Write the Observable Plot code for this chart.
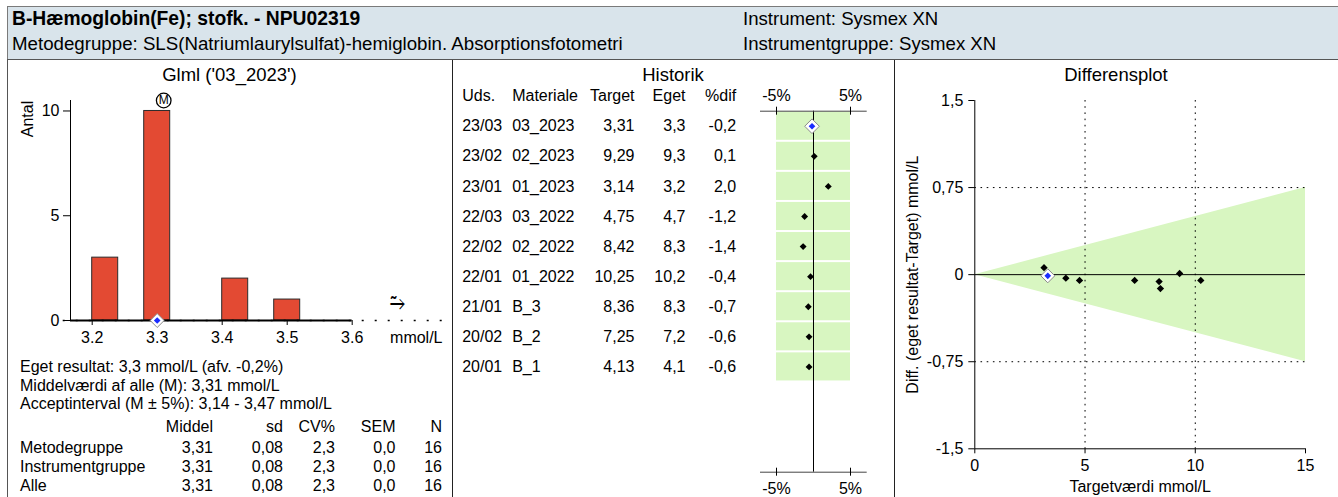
<!DOCTYPE html>
<html><head><meta charset="utf-8">
<script src="https://cdn.jsdelivr.net/npm/d3@7"></script>
<script src="https://cdn.jsdelivr.net/npm/@observablehq/plot@0.6"></script>
<style>
html,body{margin:0;padding:0;background:#fff;}
#root{position:relative;width:1338px;height:497px;overflow:hidden;font-family:"Liberation Sans",Arial,sans-serif;color:#000;background:#fff;}
.abs{position:absolute;white-space:nowrap;}
</style></head><body><div id="root"></div>
<script>
// ---------- data ----------
const histBinStart = [3.20, 3.28, 3.40, 3.48];
const histBinWidth = 0.04;
const histCounts = [3, 10, 2, 1];
const histXTicks = [3.2, 3.3, 3.4, 3.5, 3.6];
const histYTicks = [0, 5, 10];
const meanAll = 3.31;
const ownResult = 3.3;

const uds = ["23/03","23/02","23/01","22/03","22/02","22/01","21/01","20/02","20/01"];
const materiale = ["03_2023","02_2023","01_2023","03_2022","02_2022","01_2022","B_3","B_2","B_1"];
const targetVals = [3.31, 9.29, 3.14, 4.75, 8.42, 10.25, 8.36, 7.25, 4.13];
const egetVals = [3.3, 9.3, 3.2, 4.7, 8.3, 10.2, 8.3, 7.2, 4.1];
const pctDif = [-0.2, 0.1, 2.0, -1.2, -1.4, -0.4, -0.7, -0.6, -0.6];
const acceptPct = [-5, 5];
const histHeaders = ["Uds.", "Materiale", "Target", "Eget", "%dif"];

const diffXTicks = [0, 5, 10, 15];
const diffYTicks = [-1.5, -0.75, 0, 0.75, 1.5];
const diffGridX = [5, 10];
const diffGridY = [-0.75, 0.75];
const targetRange = [0, 15];

const statHeaders = ["Middel", "sd", "CV%", "SEM", "N"];
const statGroups = ["Metodegruppe", "Instrumentgruppe", "Alle"];
const statMiddel = [3.31, 3.31, 3.31];
const statSd = [0.08, 0.08, 0.08];
const statCV = [2.3, 2.3, 2.3];
const statSEM = [0.0, 0.0, 0.0];
const statN = [16, 16, 16];

// ---------- helpers ----------
const FONT = '"Liberation Sans", Arial, sans-serif';
const GREEN = "#d8f6c1";
const RED = "#e34a33";
const BLUE = "#1a2cff";
const comma = v => String(v).replace(".", ",");
const root = document.getElementById("root");
function box(style) { const d = document.createElement("div"); d.className = "abs"; Object.assign(d.style, style); root.appendChild(d); return d; }
function txt(s, x, cy, opts = {}) {
  const size = opts.size || 16, lh = 20;
  const d = box({left: x + "px", top: (cy - lh / 2) + "px", fontSize: size + "px", lineHeight: lh + "px",
    fontWeight: opts.bold ? "bold" : "normal"});
  if (opts.anchor === "end") d.style.transform = "translateX(-100%)";
  if (opts.anchor === "middle") d.style.transform = "translateX(-50%)";
  d.textContent = s;
  return d;
}
function place(svg, left, top, w, h) {
  const d = box({left: left + "px", top: top + "px", width: w + "px", height: h + "px"});
  d.appendChild(svg);
}
const DIAMOND = {draw(ctx, size) { const r = Math.sqrt(size) * 0.62625; ctx.moveTo(0, -r); ctx.lineTo(r, 0); ctx.lineTo(0, r); ctx.lineTo(-r, 0); ctx.closePath(); }};
const baseStyle = {fontFamily: FONT, fontSize: "16px", background: "transparent", overflow: "visible", color: "#000"};

// ---------- header ----------
box({left: "7px", top: "6px", width: "1331px", height: "54px", background: "#d9e4eb", borderTop: "1px solid #7a7a7a", borderLeft: "1px solid #7a7a7a", boxSizing: "border-box"});
box({left: "7px", top: "59px", width: "1331px", height: "1px", background: "#555"});
box({left: "7px", top: "60px", width: "1px", height: "437px", background: "#555"});
box({left: "452px", top: "60px", width: "1px", height: "437px", background: "#222"});
box({left: "894px", top: "60px", width: "1px", height: "437px", background: "#222"});
txt("B-Hæmoglobin(Fe); stofk. - NPU02319", 12, 19, {size: 19.3, bold: true});
txt("Metodegruppe: SLS(Natriumlaurylsulfat)-hemiglobin. Absorptionsfotometri", 12, 44, {size: 18.7});
txt("Instrument: Sysmex XN", 743, 19, {size: 18.6});
txt("Instrumentgruppe: Sysmex XN", 743, 44, {size: 18.6});

// panel titles
txt("Glml ('03_2023')", 229.5, 75, {size: 18.5, anchor: "middle"});
txt("Historik", 673, 75, {size: 18.5, anchor: "middle"});
txt("Differensplot", 1116, 75, {size: 18.5, anchor: "middle"});

// ---------- histogram ----------
const hx0 = 3.2 - 21.7 / 650, hx1 = 3.2 + 351.3 / 650;
const histData = histBinStart.map((x, i) => ({x1: x, x2: x + histBinWidth, n: histCounts[i]}));
const hist = Plot.plot({
  width: 452, height: 290, marginLeft: 70, marginRight: 9, marginTop: 40, marginBottom: 30,
  style: baseStyle,
  x: {domain: [hx0, hx1]},
  y: {domain: [0, 10.5]},
  marks: [
    Plot.rectY(histData, {x1: "x1", x2: "x2", y: "n", fill: RED, stroke: "#2b2b2b", strokeWidth: 1}),
    Plot.ruleY([0], {x1: 3.2 - 29 / 650, x2: hx1, stroke: "#000", strokeWidth: 1.6, strokeDasharray: "2,11"}),
    Plot.ruleY([0], {x1: hx0, x2: histXTicks[histXTicks.length - 1], stroke: "#000", strokeWidth: 2}),
    Plot.ruleX([hx0], {stroke: "#000"}),
    Plot.axisY({ticks: histYTicks, tickSize: 7, tickPadding: 4, label: null}),
    Plot.axisX({ticks: histXTicks, tickSize: 5, tickPadding: 6, tickFormat: d => d.toFixed(1), label: null}),
    Plot.text(["Antal"], {frameAnchor: "top-left", dx: -42.5, dy: 18.5, rotate: -90, textAnchor: "middle", lineAnchor: "middle"}),
    Plot.text(["mmol/L"], {frameAnchor: "bottom-right", dx: -1, dy: 17, textAnchor: "end", lineAnchor: "middle"}),
    Plot.text(["⥲"], {frameAnchor: "bottom-right", dx: -46, dy: -19, textAnchor: "middle", lineAnchor: "middle", fontFamily: "DejaVu Sans", fontSize: 19}),
    Plot.dot([meanAll], {x: d => d, frameAnchor: "top", r: 7.3, stroke: "#000", strokeWidth: 1.3, fill: "white"}),
    Plot.text([meanAll], {x: d => d, frameAnchor: "top", text: () => "M", fontSize: 12, textAnchor: "middle", lineAnchor: "middle"}),
    Plot.dot([ownResult], {x: d => d, frameAnchor: "bottom", symbol: DIAMOND, r: 6.3, fill: "white", stroke: "#8a8a8a", strokeWidth: 1}),
    Plot.dot([ownResult], {x: d => d, frameAnchor: "bottom", symbol: DIAMOND, r: 3, fill: BLUE})
  ]
});
place(hist, 0, 60, 452, 290);

// stats text
txt("Eget resultat: 3,3 mmol/L (afv. -0,2%)", 20, 367);
txt("Middelværdi af alle (M): 3,31 mmol/L", 20, 385.5);
txt("Acceptinterval (M ± 5%): 3,14 - 3,47 mmol/L", 20, 404);
const statColX = [213, 283, 335, 395.5, 442];
statHeaders.forEach((h, j) => txt(h, statColX[j], 427, {anchor: "end"}));
statGroups.forEach((g, i) => {
  const cy = 447.5 + i * 19;
  txt(g, 20, cy);
  const vals = [statMiddel[i].toFixed(2), statSd[i].toFixed(2), statCV[i].toFixed(1), statSEM[i].toFixed(1), String(statN[i])].map(comma);
  vals.forEach((v, j) => txt(v, statColX[j], cy, {anchor: "end"}));
});

// ---------- historik ----------
const rows = uds.map((u, i) => ({i, uds: u, mat: materiale[i], target: comma(targetVals[i].toFixed(2)), eget: comma(egetVals[i].toFixed(1)), pdif: comma(pctDif[i].toFixed(1)), pct: pctDif[i]}));
const mLeft = 760, mRight = 866.7, px0 = 813, pxPer = 7.4;
const colDx = [461.7 - mLeft, 511.7 - mLeft, 634 - mLeft, 685 - mLeft, 735.7 - mLeft];
const colAnchor = ["start", "start", "end", "end", "end"];
const colKey = ["uds", "mat", "target", "eget", "pdif"];
const yTop = -0.5, yBot = 11.5;
const mid = Plot.plot({
  width: 442, height: 437, marginLeft: mLeft - 452, marginRight: 894 - mRight, marginTop: 50.7, marginBottom: 437 - (471.7 - 60),
  style: baseStyle,
  x: {domain: [(mLeft - px0) / pxPer, (mRight - px0) / pxPer], axis: null},
  y: {domain: [yTop, yBot], reverse: true, axis: null},
  marks: [
    Plot.rect(rows, {x1: acceptPct[0], x2: acceptPct[1], y1: d => d.i - 0.5, y2: d => d.i + 0.5, insetTop: 1, insetBottom: 1, fill: GREEN}),
    Plot.ruleX([0], {stroke: "#000"}),
    Plot.ruleY([yTop, yBot], {stroke: "#444"}),
    Plot.ruleX(acceptPct, {y1: yTop, y2: yTop, insetTop: -4, insetBottom: -4, stroke: "#000"}),
    Plot.ruleX(acceptPct, {y1: yBot, y2: yBot, insetTop: -4, insetBottom: -4, stroke: "#000"}),
    Plot.text(acceptPct, {x: d => d, frameAnchor: "top", dy: -15.7, text: d => d + "%", textAnchor: "middle", lineAnchor: "middle"}),
    Plot.text(acceptPct, {x: d => d, frameAnchor: "bottom", dy: 16.3, text: d => d + "%", textAnchor: "middle", lineAnchor: "middle"}),
    ...histHeaders.map((h, j) => Plot.text([h], {frameAnchor: "top-left", dx: colDx[j], dy: -15.7, textAnchor: colAnchor[j], lineAnchor: "middle"})),
    ...colKey.map((k, j) => Plot.text(rows, {y: "i", text: k, frameAnchor: "left", dx: colDx[j], textAnchor: colAnchor[j], lineAnchor: "middle"})),
    Plot.dot(rows.slice(1), {x: "pct", y: "i", symbol: DIAMOND, r: 3.1, fill: "#000"}),
    Plot.dot(rows.slice(0, 1), {x: "pct", y: "i", symbol: DIAMOND, r: 6.6, fill: "white", stroke: "#8a8a8a", strokeWidth: 1}),
    Plot.dot(rows.slice(0, 1), {x: "pct", y: "i", symbol: DIAMOND, r: 3, fill: BLUE})
  ]
});
place(mid, 452, 60, 442, 437);

// ---------- differensplot ----------
const diffData = targetVals.map((t, i) => ({t, d: +(egetVals[i] - t).toFixed(2), cur: i === 0}));
const right = Plot.plot({
  width: 444, height: 437, marginLeft: 80.3, marginRight: 33, marginTop: 40, marginBottom: 48.7,
  style: baseStyle,
  x: {domain: targetRange},
  y: {domain: [diffYTicks[0], diffYTicks[diffYTicks.length - 1]]},
  marks: [
    Plot.areaY(targetRange, {x: d => d, y1: d => d * acceptPct[0] / 100, y2: d => d * acceptPct[1] / 100, fill: GREEN}),
    Plot.ruleY(diffGridY, {stroke: "#000", strokeDasharray: "1.6,4.6"}),
    Plot.ruleX(diffGridX, {stroke: "#000", strokeDasharray: "1.6,4.6"}),
    Plot.ruleY([0], {stroke: "#000"}),
    Plot.ruleX([targetRange[0]], {stroke: "#000"}),
    Plot.ruleY([diffYTicks[0]], {stroke: "#000"}),
    Plot.axisY({ticks: diffYTicks, tickSize: 6, tickPadding: 5.5, tickFormat: comma, label: null}),
    Plot.axisX({ticks: diffXTicks, tickSize: 5, tickPadding: 6, tickFormat: comma, label: null}),
    Plot.text(["Targetværdi mmol/L"], {frameAnchor: "bottom", dy: 38.4, textAnchor: "middle", lineAnchor: "middle"}),
    Plot.text(["Diff. (eget resultat-Target) mmol/L"], {frameAnchor: "left", dx: -61.8, rotate: -90, textAnchor: "middle", lineAnchor: "middle"}),
    Plot.dot(diffData.filter(d => !d.cur), {x: "t", y: "d", symbol: DIAMOND, r: 3.3, fill: "#000"}),
    Plot.dot(diffData.filter(d => d.cur), {x: "t", y: "d", symbol: DIAMOND, r: 6.3, fill: "white", stroke: "#8a8a8a", strokeWidth: 1}),
    Plot.dot(diffData.filter(d => d.cur), {x: "t", y: "d", symbol: DIAMOND, r: 3, fill: BLUE})
  ]
});
place(right, 894, 60, 444, 437);
</script></body></html>
